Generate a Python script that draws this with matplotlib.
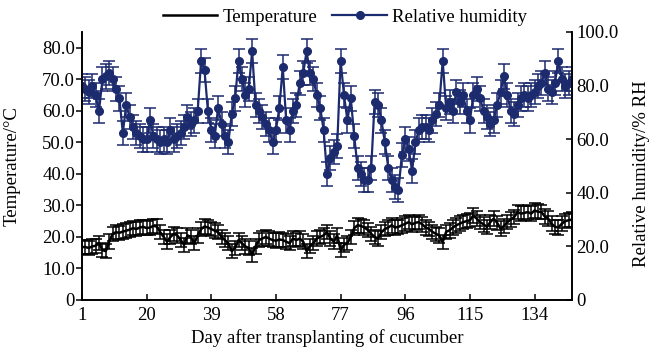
import matplotlib
matplotlib.use("Agg")
import matplotlib.pyplot as plt
from matplotlib.lines import Line2D

plt.rcParams['font.family'] = ['Liberation Serif', 'DejaVu Serif']

# day after transplanting, 1..145
days = list(range(1, 146))

# temperature, degC (left axis)
temperature = [
    16.8, 16.8, 16.5, 17.0, 17.2, 18.0, 15.8, 15.5, 18.5, 21.0,
    21.5, 21.3, 21.7, 22.0, 22.3, 22.8, 22.5, 23.0, 23.2, 22.8,
    23.0, 23.5, 23.3, 21.5, 20.0, 18.5, 20.0, 21.0, 20.5, 19.0,
    17.5, 20.5, 20.0, 18.0, 20.5, 22.5, 23.3, 23.0, 22.5, 22.0,
    21.5, 20.0, 19.0, 18.0, 15.5, 16.5, 19.0, 18.0, 17.0, 16.5,
    14.3, 17.0, 19.0, 19.5, 20.0, 19.5, 19.0, 18.8, 19.2, 19.0,
    18.5, 18.0, 19.5, 19.0, 19.5, 18.5, 15.5, 17.2, 18.0, 19.5,
    20.0, 20.5, 21.5, 19.5, 18.5, 20.5, 15.8, 17.5, 18.0, 20.0,
    22.8, 23.7, 23.5, 23.0, 22.2, 21.0, 20.0, 19.5, 21.5, 22.5,
    23.0, 23.7, 23.0, 23.2, 23.7, 24.2, 24.7, 24.0, 24.5, 24.7,
    24.0, 23.0, 22.5, 21.6, 21.0, 20.5, 18.4, 21.6, 22.1, 23.0,
    23.7, 24.2, 24.7, 25.0, 25.3, 26.8, 25.8, 24.7, 24.0, 23.2,
    24.7, 25.8, 24.5, 22.6, 23.5, 24.7, 25.5, 26.3, 27.9, 27.4,
    27.6, 27.9, 27.4, 28.4, 28.0, 27.9, 26.5, 25.8, 24.2, 23.2,
    23.0, 24.2, 25.0, 25.3, 25.5,
]

# relative humidity, % RH (right axis)
humidity = [
    79.9, 78.7, 77.6, 79.9, 76.4, 70.5, 82.3, 83.4, 84.6, 82.3,
    78.7, 75.2, 62.3, 72.9, 68.2, 64.6, 62.3, 61.1, 59.9, 59.9,
    67.0, 61.1, 59.9, 58.8, 59.9, 58.8, 63.5, 59.9, 61.1, 62.3,
    64.6, 68.2, 65.8, 67.0, 70.5, 89.3, 85.8, 70.5, 63.5, 61.1,
    71.7, 65.8, 61.1, 58.8, 69.3, 75.2, 89.3, 82.3, 76.4, 78.7,
    92.8, 72.9, 70.5, 68.2, 65.8, 63.5, 58.8, 63.5, 71.7, 87.0,
    67.0, 63.5, 70.5, 72.9, 81.1, 84.6, 92.8, 84.6, 82.3, 76.4,
    71.7, 63.5, 47.0, 52.9, 55.2, 57.6, 89.3, 76.4, 67.0, 75.2,
    61.1, 49.4, 47.0, 44.7, 44.7, 49.4, 74.0, 72.9, 67.0, 58.8,
    49.4, 44.7, 42.3, 41.1, 54.1, 59.9, 56.4, 48.2, 58.8, 63.5,
    64.6, 64.6, 63.5, 67.0, 69.3, 72.9, 89.3, 71.7, 74.0, 70.5,
    77.6, 74.0, 76.4, 70.5, 67.0, 76.4, 78.7, 75.2, 70.5, 68.2,
    65.8, 67.0, 72.9, 77.6, 83.4, 76.4, 70.5, 69.3, 72.9, 75.2,
    76.4, 75.2, 76.4, 77.6, 79.9, 81.1, 84.6, 78.7, 77.6, 81.1,
    89.3, 82.3, 79.9, 81.1, 82.3,
]

temp_err = 2.3
hum_err = 4.5

x_ticks = [1, 20, 39, 58, 77, 96, 115, 134]
t_ticks = [0, 10, 20, 30, 40, 50, 60, 70, 80]
rh_ticks = [0, 20, 40, 60, 80, 100]

blue = '#1c2a6e'
fs = 13.5

fig = plt.figure(figsize=(6.5, 3.51), dpi=100)
ax = fig.add_axes([82 / 650, 1 - 300 / 351, (572 - 82) / 650, (300 - 32) / 351])
ax2 = ax.twinx()

ax.errorbar(days, temperature, yerr=temp_err, color='black', lw=1.8,
            elinewidth=1.1, capsize=4.5, capthick=1.1)
ax2.errorbar(days, humidity, yerr=hum_err, color=blue, lw=1.6,
             marker='o', ms=5.5, elinewidth=1.1, capsize=4.5, capthick=1.1)

ax.set_xlim(1, 145)
ax.set_ylim(0, 85)
ax2.set_ylim(0, 100)

ax.set_xticks(x_ticks)
ax.set_yticks(t_ticks)
ax.set_yticklabels(['0' if v == 0 else f'{v:.1f}' for v in t_ticks])
ax2.set_yticks(rh_ticks)
ax2.set_yticklabels(['0' if v == 0 else f'{v:.1f}' for v in rh_ticks])

for a in (ax, ax2):
    a.spines['top'].set_visible(False)
    for s in a.spines.values():
        s.set_linewidth(1.2)
ax.tick_params(axis='x', direction='in', length=4, width=1.1, labelsize=fs, pad=5)
ax.tick_params(axis='y', direction='out', length=4, width=1.1, labelsize=fs, pad=1)
ax2.tick_params(axis='y', direction='in', length=4, width=1.1, labelsize=fs, pad=3)

ax.set_xlabel('Day after transplanting of cucumber', fontsize=fs, labelpad=4)
ax.set_ylabel('Temperature/°C', fontsize=fs)
ax.yaxis.set_label_coords(-0.125, 0.5)
ax2.set_ylabel('Relative humidity/% RH', fontsize=fs)
ax2.yaxis.set_label_coords(1.125, 0.47)

handles = [
    Line2D([], [], color='black', lw=1.8),
    Line2D([], [], color=blue, lw=1.6, marker='o', ms=5.5),
]
fig.legend(handles, ['Temperature', 'Relative humidity'], loc='center',
           bbox_to_anchor=(345 / 650, 1 - 17 / 351), ncol=2, frameon=False,
           fontsize=fs, handlelength=2.9, columnspacing=0.8, handletextpad=0.3)

fig.savefig('out.png', dpi=100)
